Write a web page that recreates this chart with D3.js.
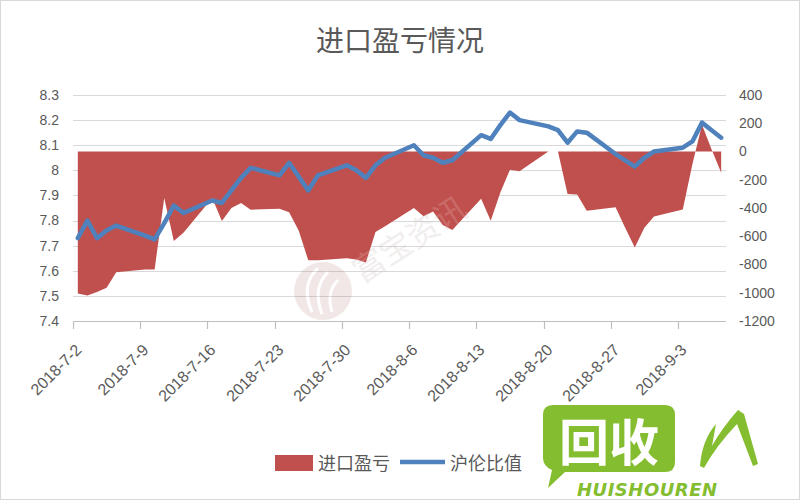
<!DOCTYPE html>
<html><head><meta charset="utf-8">
<script src="https://cdn.jsdelivr.net/npm/d3@7"></script>
<style>body{margin:0;background:#fff} svg{display:block}</style>
</head><body><svg id="c" width="800" height="500"></svg>
<script>
const dates = [
 "2018-07-02","2018-07-03","2018-07-04","2018-07-05","2018-07-06",
 "2018-07-09","2018-07-10","2018-07-11","2018-07-12","2018-07-13",
 "2018-07-16","2018-07-17","2018-07-18","2018-07-19","2018-07-20",
 "2018-07-23","2018-07-24","2018-07-25","2018-07-26","2018-07-27",
 "2018-07-30","2018-07-31","2018-08-01","2018-08-02","2018-08-03",
 "2018-08-06","2018-08-07","2018-08-08","2018-08-09","2018-08-10",
 "2018-08-13","2018-08-14","2018-08-15","2018-08-16","2018-08-17",
 "2018-08-20","2018-08-21","2018-08-22","2018-08-23","2018-08-24",
 "2018-08-27","2018-08-28","2018-08-29","2018-08-30","2018-08-31",
 "2018-09-03","2018-09-04","2018-09-05","2018-09-06","2018-09-07"];
const profit = [
 -1005,-1020,-995,-965,-855,
 -835,-835,-330,-634,-575,
 -330,-492,-400,-365,-412,
 -405,-430,-560,-770,-770,
 -755,-765,-785,-570,-530,
 -400,-458,-425,-520,-555,
 -335,-490,-290,-130,-140,
 0,0,-300,-305,-420,
 -395,-540,-680,-540,-460,
 -410,-90,190,15,-150];
const ratio = [
 7.73,7.80,7.73,7.76,7.78,
 7.74,7.725,7.79,7.86,7.83,
 7.88,7.87,7.92,7.97,8.01,
 7.98,8.03,7.975,7.92,7.98,
 8.02,8.00,7.97,8.02,8.05,
 8.10,8.06,8.05,8.03,8.04,
 8.14,8.125,8.18,8.23,8.20,
 8.175,8.16,8.11,8.155,8.15,
 8.065,8.04,8.015,8.05,8.075,
 8.09,8.115,8.19,8.16,8.13];
const leftTicks = [7.4,7.5,7.6,7.7,7.8,7.9,8,8.1,8.2,8.3];
const rightTicks = [-1200,-1000,-800,-600,-400,-200,0,200,400];
const xTickLabels = ["2018-7-2","2018-7-9","2018-7-16","2018-7-23","2018-7-30","2018-8-6","2018-8-13","2018-8-20","2018-8-27","2018-9-3"];
const chartTitle = "进口盈亏情况";
const seriesNames = ["进口盈亏","沪伦比值"];

const parse = d3.timeParse("%Y-%m-%d");
const svg = d3.select("#c");
const pL = 73, pR = 726, pT = 95, pB = 321;
const x = d3.scaleTime().domain([parse("2018-07-02"), parse("2018-09-08")]).range([pL, pR]);
const yL = d3.scaleLinear().domain([7.4, 8.3]).range([pB, pT]);
const yR = d3.scaleLinear().domain([-1200, 400]).range([pB, pT]);
const px = d => x(d3.timeHour.offset(parse(d), 12));
const font = "'Liberation Sans', 'Noto Sans CJK SC', sans-serif";
const cjk = "'Noto Sans CJK SC', sans-serif";
const txt = "#595959";

svg.append("rect").attr("x",0.5).attr("y",0.5).attr("width",799).attr("height",499)
  .attr("fill","#fff").attr("stroke","#d9d9d9");

// gridlines
svg.append("g").selectAll("line").data(leftTicks).join("line")
  .attr("x1", pL).attr("x2", pR)
  .attr("y1", d => Math.round(yL(d))+0.5).attr("y2", d => Math.round(yL(d))+0.5)
  .attr("stroke", "#d9d9d9").attr("stroke-width", 1.2);

// watermark (behind data)
const wm = svg.append("g").attr("opacity", 0.13);
wm.append("circle").attr("cx",323).attr("cy",291).attr("r",29).attr("fill","#a05050");
wm.append("path").attr("d","M312,312 Q300,285 318,268 M322,314 Q312,288 328,272 M332,312 Q326,292 338,280")
  .attr("fill","none").attr("stroke","#fff").attr("stroke-width",3);
wm.append("text").attr("transform","translate(362,284) rotate(-33)")
  .attr("font-family",cjk).attr("font-size",32).attr("fill","#8a6a6a").text("富宝资讯");

// area
const area = d3.area().x((d,i) => px(dates[i])).y0(yR(0)).y1(d => yR(d));
svg.append("path").datum(profit).attr("d", area).attr("fill", "#c0504d");

// line
const line = d3.line().x((d,i) => px(dates[i])).y(d => yL(d));
svg.append("path").datum(ratio).attr("d", line).attr("fill","none")
  .attr("stroke","#4f81bd").attr("stroke-width",4.5).attr("stroke-linejoin","round").attr("stroke-linecap","round");

// watermark text over the area (light)
svg.append("g").attr("opacity",0.15)
  .append("text").attr("transform","translate(362,284) rotate(-33)")
  .attr("font-family",cjk).attr("font-size",32).attr("fill","#ffffff").text("富宝资讯");

// x axis
svg.append("line").attr("x1",pL).attr("x2",pR).attr("y1",pB+0.5).attr("y2",pB+0.5)
  .attr("stroke","#bfbfbf").attr("stroke-width",1.2);
const xt = svg.append("g");
xTickLabels.forEach(l => {
  const xx = Math.round(x(parse(l.replace(/-(\d)(?=-|$)/g, "-0$1")))) + 0.5;
  xt.append("line").attr("x1",xx).attr("x2",xx).attr("y1",pB).attr("y2",pB+8)
    .attr("stroke","#bfbfbf").attr("stroke-width",1.2);
  xt.append("text").attr("transform",`translate(${xx+9},${pB+30}) rotate(-45)`)
    .attr("text-anchor","end").attr("font-family",font).attr("font-size",16)
    .attr("fill",txt).text(l);
});

// left axis labels
svg.append("g").selectAll("text").data(leftTicks).join("text")
  .attr("x", 59).attr("y", d => yL(d)).attr("dy","0.35em").attr("text-anchor","end")
  .attr("font-family",font).attr("font-size",14).attr("fill",txt).text(d => d);
// right axis labels
svg.append("g").selectAll("text").data(rightTicks).join("text")
  .attr("x", 739).attr("y", d => yR(d)).attr("dy","0.35em").attr("text-anchor","start")
  .attr("font-family",font).attr("font-size",14).attr("fill",txt).text(d => d);

// title
svg.append("text").attr("x",400).attr("y",51).attr("text-anchor","middle")
  .attr("font-family",cjk).attr("font-size",28).attr("fill",txt).text(chartTitle);

// legend
const lg = svg.append("g");
lg.append("rect").attr("x",275).attr("y",455).attr("width",38).attr("height",16).attr("fill","#c0504d");
lg.append("text").attr("x",318).attr("y",470).attr("font-family",cjk).attr("font-size",18).attr("fill",txt).text(seriesNames[0]);
lg.append("line").attr("x1",400).attr("x2",445).attr("y1",462).attr("y2",462).attr("stroke","#4f81bd").attr("stroke-width",4.5);
lg.append("text").attr("x",450).attr("y",470).attr("font-family",cjk).attr("font-size",18).attr("fill",txt).text(seriesNames[1]);

// 回收人 logo watermark
const g = "#84bd2f";
const lo = svg.append("g");
lo.append("path").attr("d","M553,405 H665 Q675,405 675,415 V462 Q675,472 665,472 H565 L548,488 L552,470 Q543,466 543,458 V415 Q543,405 553,405 Z").attr("fill",g);
lo.append("text").attr("x",609).attr("y",461).attr("text-anchor","middle").attr("font-family",cjk)
  .attr("font-weight","bold").attr("font-size",50).attr("fill","#fff").text("回收");
lo.append("text").attr("x",577).attr("y",496).attr("font-family","'DejaVu Sans', sans-serif").attr("font-weight","bold")
  .attr("font-style","italic").attr("font-size",18).attr("textLength",140).attr("fill",g).text("HUISHOUREN");
lo.append("path").attr("d","M700,466 Q702,440 716,424 L712,446 Q722,428 738,410 L744,414 L758,464 L753,466 L737,424 Q716,446 704,468 Z").attr("fill",g);
</script></body></html>
